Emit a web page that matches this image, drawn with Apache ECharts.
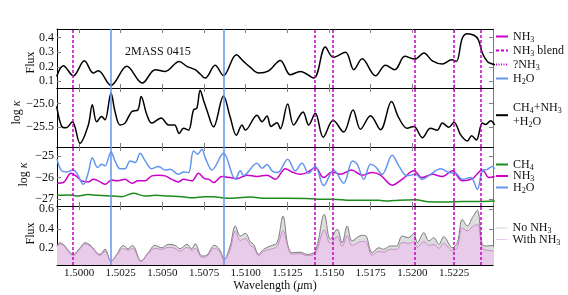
<!DOCTYPE html>
<html><head><meta charset="utf-8">
<script src="https://cdn.jsdelivr.net/npm/echarts@6/dist/echarts.min.js"></script>
<style>html,body{margin:0;padding:0;background:#fff}#c{width:568px;height:295px}</style>
</head><body><div id="c"></div><script>
const FONT = 'Liberation Serif';
const MAG = '#c800c8', BLUE = '#6495ed', GREEN = '#1c8c1c';

const xTicks = [1.5, 1.5025, 1.505, 1.5075, 1.51, 1.5125, 1.515, 1.5175, 1.52, 1.5225];
const nh3Lines = [1.49964, 1.51414, 1.51522, 1.52015, 1.52249, 1.52408];
const h2oLines = [1.50188, 1.50870];

const yTicksFlux = [0.1, 0.2, 0.3, 0.4];
const yTicksKappa = [-25.5, -25.0];
const yTicksSpecies = [-27, -26, -25];
const yTicksModel = [0.2, 0.4, 0.6];

const fluxObs = [[1.49866,0.134],[1.49906,0.207],[1.49966,0.138],[1.50032,0.241],[1.50086,0.157],[1.50116,0.172],[1.50192,0.072],[1.50287,0.203],[1.50380,0.088],[1.50457,0.180],[1.50517,0.168],[1.50601,0.237],[1.50647,0.203],[1.50697,0.180],[1.50727,0.150],[1.50757,0.122],[1.50817,0.210],[1.50867,0.140],[1.50944,0.283],[1.50987,0.237],[1.51028,0.196],[1.51078,0.157],[1.51138,0.172],[1.51208,0.244],[1.51268,0.145],[1.51328,0.168],[1.51408,0.122],[1.51478,0.336],[1.51525,0.265],[1.51599,0.300],[1.51649,0.180],[1.51699,0.255],[1.51779,0.138],[1.51839,0.210],[1.51895,0.180],[1.51955,0.272],[1.52015,0.253],[1.52069,0.294],[1.52120,0.241],[1.52180,0.219],[1.52236,0.248],[1.52264,0.237],[1.52300,0.398],[1.52330,0.428],[1.52370,0.417],[1.52396,0.386],[1.52420,0.295],[1.52450,0.237],[1.52480,0.219],[1.52496,0.214]];

const kappaTotal = [[1.49866,-25.06],[1.49896,-25.49],[1.49922,-25.52],[1.49960,-25.39],[1.50006,-25.85],[1.50056,-25.46],[1.50080,-25.03],[1.50106,-25.39],[1.50136,-25.28],[1.50156,-25.35],[1.50192,-24.78],[1.50216,-25.17],[1.50246,-25.46],[1.50276,-25.42],[1.50317,-25.17],[1.50353,-25.14],[1.50373,-24.85],[1.50407,-25.24],[1.50437,-25.42],[1.50493,-25.31],[1.50537,-25.46],[1.50573,-25.46],[1.50601,-25.64],[1.50627,-25.53],[1.50657,-25.57],[1.50687,-25.14],[1.50707,-25.10],[1.50727,-24.72],[1.50747,-24.93],[1.50767,-25.14],[1.50807,-25.50],[1.50867,-24.84],[1.50907,-25.29],[1.50944,-25.68],[1.50978,-25.46],[1.50998,-25.57],[1.51068,-25.25],[1.51098,-25.39],[1.51128,-25.27],[1.51152,-25.49],[1.51188,-25.41],[1.51208,-25.54],[1.51252,-25.01],[1.51288,-25.46],[1.51344,-25.18],[1.51378,-25.46],[1.51418,-25.21],[1.51465,-25.72],[1.51525,-25.36],[1.51588,-25.61],[1.51644,-25.14],[1.51689,-25.55],[1.51749,-25.26],[1.51809,-25.56],[1.51875,-24.96],[1.51919,-25.31],[1.51969,-25.53],[1.52009,-25.49],[1.52060,-25.73],[1.52109,-25.53],[1.52150,-25.57],[1.52180,-25.42],[1.52219,-25.51],[1.52250,-25.40],[1.52290,-25.67],[1.52330,-25.80],[1.52356,-25.69],[1.52384,-25.78],[1.52420,-25.42],[1.52440,-25.45],[1.52470,-25.37],[1.52494,-25.46]];

const kappaCH4 = [[1.49868,-26.82],[1.49946,-26.80],[1.49994,-26.85],[1.50054,-26.78],[1.50114,-26.82],[1.50198,-26.85],[1.50258,-26.88],[1.50325,-26.72],[1.50397,-26.85],[1.50457,-26.82],[1.50535,-26.85],[1.50619,-26.88],[1.50679,-26.93],[1.50751,-26.88],[1.50805,-26.88],[1.50889,-26.95],[1.51028,-26.90],[1.51124,-26.95],[1.51226,-26.95],[1.51370,-26.96],[1.51430,-27.00],[1.51526,-27.00],[1.51629,-27.05],[1.51701,-27.04],[1.51797,-27.05],[1.51857,-27.08],[1.51917,-27.04],[1.52019,-27.02],[1.52097,-27.11],[1.52200,-27.12],[1.52302,-27.10],[1.52398,-27.10],[1.52494,-27.08]];

const kappaNH3 = [[1.49868,-26.26],[1.49906,-26.23],[1.49952,-25.80],[1.49986,-25.95],[1.50016,-26.15],[1.50056,-26.20],[1.50086,-26.08],[1.50116,-26.15],[1.50156,-26.31],[1.50197,-26.11],[1.50234,-26.15],[1.50276,-26.08],[1.50317,-26.26],[1.50355,-26.15],[1.50397,-26.15],[1.50437,-25.92],[1.50477,-25.89],[1.50517,-25.92],[1.50557,-26.08],[1.50597,-26.20],[1.50627,-26.08],[1.50677,-26.15],[1.50717,-25.80],[1.50753,-26.05],[1.50781,-26.08],[1.50807,-26.23],[1.50858,-25.95],[1.50907,-26.00],[1.50948,-26.05],[1.51008,-25.89],[1.51068,-25.95],[1.51128,-25.89],[1.51178,-26.08],[1.51238,-25.59],[1.51278,-25.74],[1.51328,-25.85],[1.51368,-25.77],[1.51418,-25.54],[1.51468,-26.00],[1.51519,-25.74],[1.51569,-25.85],[1.51635,-25.65],[1.51699,-25.89],[1.51759,-25.77],[1.51809,-25.89],[1.51879,-26.35],[1.51939,-26.08],[1.52009,-25.69],[1.52060,-26.00],[1.52120,-25.85],[1.52180,-25.95],[1.52240,-25.69],[1.52300,-26.15],[1.52360,-26.05],[1.52420,-25.65],[1.52460,-26.00],[1.52494,-25.95]];

const kappaH2O = [[1.49868,-25.15],[1.49896,-25.69],[1.49926,-25.74],[1.49966,-25.65],[1.49986,-25.78],[1.50026,-26.31],[1.50056,-25.77],[1.50080,-25.08],[1.50112,-25.54],[1.50136,-25.38],[1.50156,-25.46],[1.50192,-24.82],[1.50216,-25.23],[1.50246,-25.59],[1.50276,-25.59],[1.50307,-25.23],[1.50337,-25.31],[1.50367,-24.88],[1.50397,-25.23],[1.50437,-25.59],[1.50477,-25.49],[1.50517,-25.65],[1.50547,-25.62],[1.50597,-25.85],[1.50627,-25.74],[1.50657,-25.77],[1.50687,-24.77],[1.50712,-24.92],[1.50737,-24.69],[1.50757,-25.08],[1.50798,-25.65],[1.50867,-24.88],[1.50938,-26.08],[1.50968,-25.69],[1.50987,-25.90],[1.51068,-25.34],[1.51098,-25.57],[1.51128,-25.40],[1.51160,-25.70],[1.51192,-25.77],[1.51252,-25.15],[1.51298,-25.69],[1.51338,-25.34],[1.51378,-25.80],[1.51418,-25.49],[1.51468,-26.37],[1.51528,-25.65],[1.51588,-26.26],[1.51641,-25.23],[1.51669,-25.38],[1.51709,-26.08],[1.51749,-25.38],[1.51779,-25.50],[1.51819,-25.85],[1.51879,-24.97],[1.51919,-25.46],[1.51969,-25.92],[1.52019,-25.85],[1.52060,-26.08],[1.52109,-25.85],[1.52170,-25.59],[1.52219,-25.77],[1.52260,-25.80],[1.52300,-26.08],[1.52350,-26.00],[1.52390,-26.54],[1.52420,-25.69],[1.52450,-25.62],[1.52480,-25.49],[1.52494,-25.60]];

const modelWave = [1.49868,1.49886,1.49906,1.49966,1.50006,1.50036,1.50066,1.50126,1.50156,1.50192,1.50227,1.50266,1.50294,1.50320,1.50373,1.50415,1.50457,1.50497,1.50537,1.50577,1.50607,1.50647,1.50677,1.50697,1.50737,1.50767,1.50811,1.50843,1.50871,1.50907,1.50938,1.50968,1.50998,1.51028,1.51048,1.51078,1.51108,1.51148,1.51188,1.51224,1.51252,1.51278,1.51328,1.51368,1.51418,1.51472,1.51508,1.51549,1.51579,1.51609,1.51639,1.51695,1.51719,1.51759,1.51799,1.51827,1.51869,1.51905,1.51939,1.51977,1.52009,1.52030,1.52069,1.52099,1.52129,1.52159,1.52189,1.52240,1.52270,1.52300,1.52330,1.52360,1.52390,1.52420,1.52450,1.52480,1.52494];
const fluxNoNH3 = [0.224,0.257,0.240,0.138,0.205,0.257,0.235,0.138,0.190,0.070,0.138,0.230,0.195,0.230,0.070,0.155,0.230,0.205,0.241,0.230,0.196,0.241,0.196,0.247,0.121,0.130,0.231,0.190,0.087,0.224,0.429,0.326,0.354,0.265,0.241,0.138,0.190,0.224,0.257,0.531,0.240,0.155,0.160,0.138,0.172,0.549,0.292,0.395,0.257,0.429,0.275,0.333,0.330,0.155,0.206,0.190,0.224,0.224,0.326,0.310,0.354,0.257,0.360,0.275,0.309,0.240,0.319,0.206,0.257,0.497,0.429,0.514,0.590,0.240,0.224,0.230,0.200];
const fluxWithNH3 = [0.220,0.245,0.230,0.128,0.195,0.245,0.225,0.128,0.170,0.065,0.130,0.200,0.180,0.200,0.065,0.145,0.200,0.190,0.210,0.200,0.170,0.210,0.180,0.200,0.110,0.120,0.200,0.170,0.080,0.190,0.377,0.280,0.300,0.230,0.210,0.125,0.170,0.190,0.220,0.380,0.220,0.140,0.145,0.125,0.150,0.388,0.250,0.320,0.220,0.330,0.230,0.270,0.270,0.130,0.170,0.160,0.190,0.190,0.260,0.250,0.270,0.210,0.270,0.230,0.240,0.200,0.250,0.175,0.210,0.410,0.380,0.420,0.446,0.200,0.180,0.175,0.160];

const pair = (xs, ys) => xs.map((x, i) => [x, ys[i]]);
const fmt = (v, d) => (v < 0 ? '\u2212' : '') + Math.abs(v).toFixed(d);

const panels = [
  {top: 29, min: 0.054, max: 0.46, ticks: yTicksFlux, dec: 1},
  {top: 88, min: -25.93, max: -24.67, ticks: yTicksKappa, dec: 1},
  {top: 147, min: -27.31, max: -24.59, ticks: yTicksSpecies, dec: 0},
  {top: 206, min: 0.029, max: 0.634, ticks: yTicksModel, dec: 1}
];

const grid = [], xAxis = [], yAxis = [];
const tickStyle = {inside: true, length: 4, lineStyle: {color: '#808080', width: 1}};
panels.forEach((p, i) => {
  grid.push({left: 57, right: 75, top: p.top, height: 59});
  xAxis.push({type: 'value', gridIndex: i, min: 1.49868, max: 1.52484, position: 'bottom',
    axisLine: {show: true, lineStyle: {color: '#000', width: 1}},
    axisTick: Object.assign({customValues: xTicks}, tickStyle),
    axisLabel: {show: i === 3, customValues: xTicks, formatter: v => v.toFixed(4), margin: 3,
      fontFamily: FONT, fontSize: 11, color: '#111'},
    splitLine: {show: false},
    name: i === 3 ? 'Wavelength ({i|μ}m)' : '', nameLocation: 'middle', nameGap: 15,
    nameTextStyle: {fontFamily: FONT, fontSize: 12, color: '#111', rich: {i: {fontFamily: FONT, fontSize: 12, fontStyle: 'italic', color: '#111'}}}
  });
  xAxis.push({type: 'value', gridIndex: i, min: 1.49868, max: 1.52484, position: 'top',
    axisLine: {show: true, lineStyle: {color: '#000', width: 1}},
    axisTick: Object.assign({customValues: xTicks}, tickStyle),
    axisLabel: {show: false}, splitLine: {show: false}});
  yAxis.push({type: 'value', gridIndex: i, min: p.min, max: p.max, position: 'left',
    axisLine: {show: true, lineStyle: {color: '#000', width: 1}},
    axisTick: Object.assign({customValues: p.ticks}, tickStyle),
    axisLabel: {customValues: p.ticks, formatter: v => fmt(v, p.dec), margin: 3,
      fontFamily: FONT, fontSize: 12, color: '#111'},
    splitLine: {show: false}
  });
  yAxis.push({type: 'value', gridIndex: i, min: p.min, max: p.max, position: 'right',
    axisLine: {show: true, lineStyle: {color: '#777', width: 1}},
    axisTick: Object.assign({customValues: p.ticks}, tickStyle),
    axisLabel: {show: false}, splitLine: {show: false}});
});

const vLines = () => ({
  silent: true, symbol: ['none', 'none'], label: {show: false}, precision: 6, z: 6, animation: false,
  data: nh3Lines.map(w => ({xAxis: w, lineStyle: {color: MAG, type: [3, 2], width: 1.5}}))
    .concat(h2oLines.map(w => ({xAxis: w, lineStyle: {color: BLUE, type: 'solid', width: 1.5}})))
});

const base = (i, color) => ({type: 'line', xAxisIndex: 2 * i, yAxisIndex: 2 * i, symbol: 'none', smooth: 0.35,
  animation: false, silent: true, itemStyle: {color: color}});

const series = [
  Object.assign(base(0, '#000'), {name: 'obs', data: fluxObs, lineStyle: {color: '#000', width: 1.5}, markLine: vLines()}),
  Object.assign(base(0, MAG), {name: 'NH3', data: [], lineStyle: {color: MAG, width: 1.5}}),
  Object.assign(base(0, MAG), {name: 'NH3 blend', data: [], lineStyle: {color: MAG, width: 1.5, type: [3, 2]}}),
  Object.assign(base(0, MAG), {name: '?NH3', data: [], lineStyle: {color: MAG, width: 1.2, type: [1, 1.5]}}),
  Object.assign(base(0, BLUE), {name: 'H2O', data: [], lineStyle: {color: BLUE, width: 1.5}}),
  Object.assign(base(1, '#000'), {name: 'CH4+NH3+H2O', data: kappaTotal, lineStyle: {color: '#000', width: 1.5}, markLine: vLines()}),
  Object.assign(base(2, GREEN), {name: 'CH4', data: kappaCH4, lineStyle: {color: GREEN, width: 1.5}}),
  Object.assign(base(2, MAG), {name: 'NH3 ', data: kappaNH3, lineStyle: {color: MAG, width: 1.5}}),
  Object.assign(base(2, BLUE), {name: 'H2O ', data: kappaH2O, lineStyle: {color: BLUE, width: 1.5}, markLine: vLines()}),
  Object.assign(base(3, '#d0d0d0'), {name: 'No NH3', data: pair(modelWave, fluxNoNH3), lineStyle: {color: '#7a7a7a', width: 1},
    areaStyle: {color: '#dedede', opacity: 1, origin: 'start'}}),
  Object.assign(base(3, '#f0c4f0'), {name: 'With NH3', data: pair(modelWave, fluxWithNH3), lineStyle: {color: '#c48ec4', width: 1},
    areaStyle: {color: '#e8cbe8', opacity: 1, origin: 'start'}, markLine: vLines()})
];

const labels = {
  'NH3': 'NH{s|3}', 'NH3 blend': 'NH{s|3} blend', '?NH3': '?NH{s|3}', 'H2O': 'H{s|2}O',
  'CH4+NH3+H2O': 'CH{s|4}+NH{s|3}\n+H{s|2}O', 'CH4': 'CH{s|4}', 'NH3 ': 'NH{s|3}', 'H2O ': 'H{s|2}O',
  'No NH3': 'No NH{s|3}', 'With NH3': 'With NH{s|3}'
};
const legendBase = (top, data, gap) => ({
  orient: 'vertical', left: 495, top: top, padding: 0, itemGap: gap, itemWidth: 12, itemHeight: 8,
  selectedMode: false, data: data, formatter: n => labels[n],
  itemStyle: {opacity: 0},
  textStyle: {fontFamily: FONT, fontSize: 12, color: '#111', lineHeight: 14,
    rich: {s: {fontFamily: FONT, fontSize: 8, color: '#111', verticalAlign: 'bottom', lineHeight: 8}}}
});

const yTitle = (x, y, text) => ({type: 'text', x: x, y: y, rotation: Math.PI / 2, silent: true,
  style: {text: text, fontFamily: FONT, fontSize: 12, fill: '#111', align: 'center', verticalAlign: 'middle',
    rich: {i: {fontFamily: FONT, fontSize: 12, fontStyle: 'italic', fill: '#111'}}}});

const option = {
  backgroundColor: '#fff',
  animation: false,
  grid, xAxis, yAxis, series,
  legend: [
    legendBase(29.5, ['NH3', 'NH3 blend', '?NH3', 'H2O'], 0),
    legendBase(101.2, ['CH4+NH3+H2O'], 0),
    legendBase(157.5, ['CH4', 'NH3 ', 'H2O '], -2.5),
    legendBase(221, [{name: 'No NH3', lineStyle: {color: '#d0d0d0', width: 1}}, {name: 'With NH3', lineStyle: {color: '#f0c4f0', width: 1}}], -2.5)
  ],
  graphic: [
    {type: 'text', left: 125, top: 46, silent: true, style: {text: '2MASS 0415', fontFamily: FONT, fontSize: 12, fill: '#111'}},
    yTitle(30.5, 62.5, 'Flux'),
    yTitle(17, 112.5, 'log {i|κ}'),
    yTitle(23.5, 174.5, 'log {i|κ}'),
    yTitle(30.5, 233.5, 'Flux')
  ]
};
echarts.init(document.getElementById('c'), null, {renderer: 'canvas'}).setOption(option);
</script></body></html>
